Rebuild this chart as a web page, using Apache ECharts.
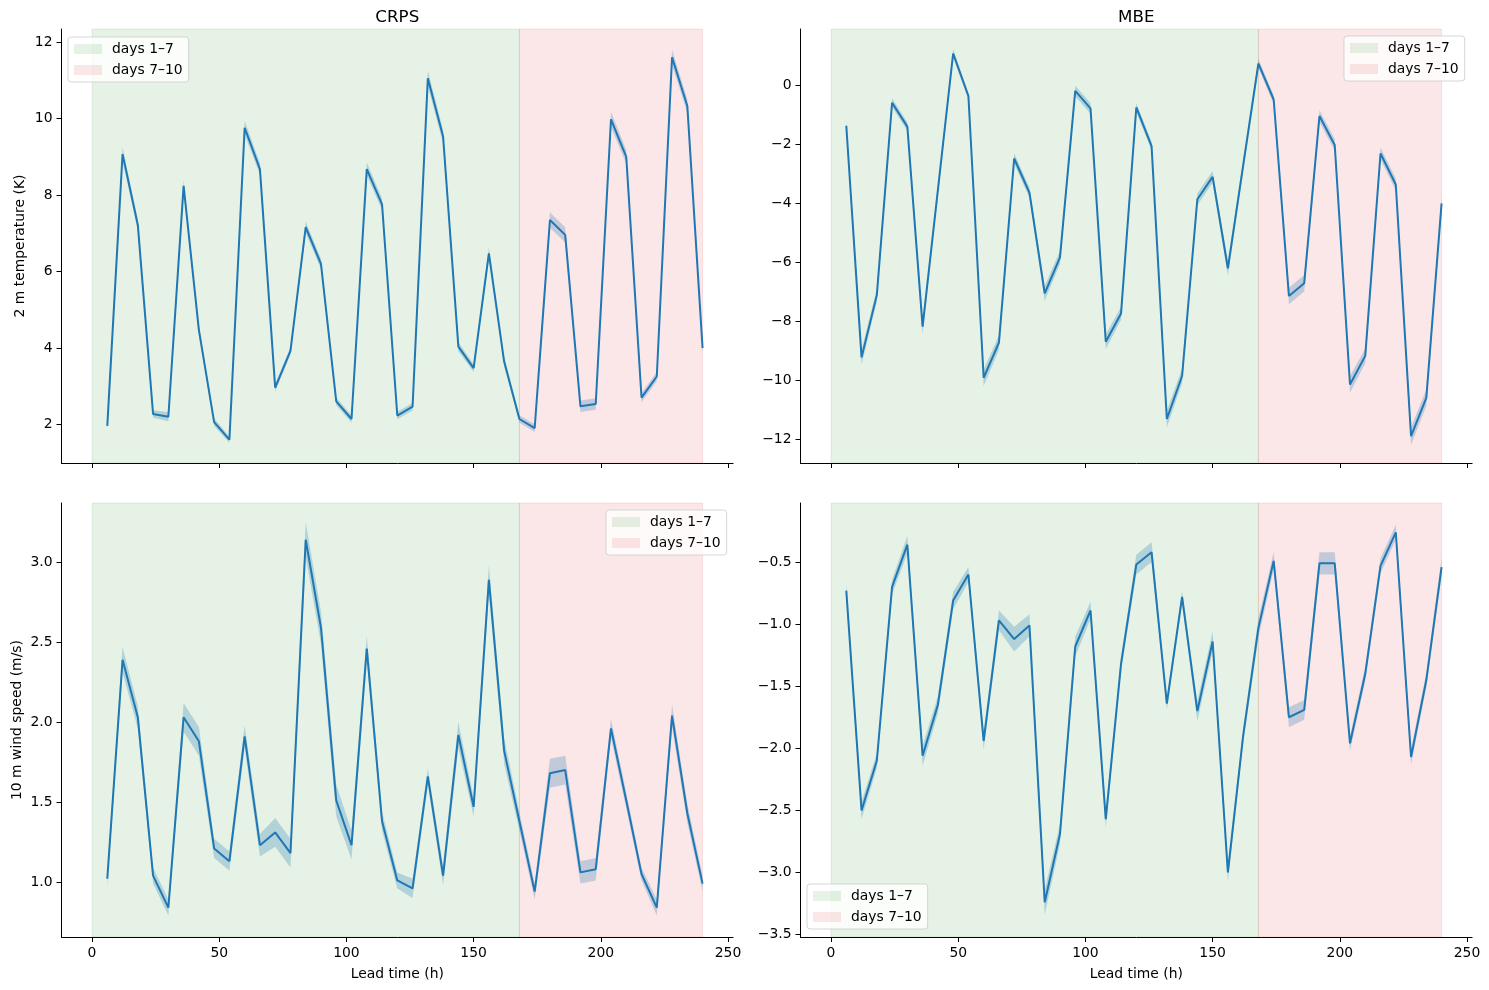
<!DOCTYPE html>
<html>
<head>
<meta charset="utf-8">
<title>CRPS / MBE by lead time</title>
<script src="https://cdn.jsdelivr.net/npm/echarts@6/dist/echarts.min.js"></script>
<style>
  html, body { margin: 0; padding: 0; background: #fff; }
  #main { width: 1489px; height: 990px; }
</style>
</head>
<body>
<div id="main"></div>
<script>
// lead times (h)
var leadTime = [6, 12, 18, 24, 30, 36, 42, 48, 54, 60, 66, 72, 78, 84, 90, 96, 102, 108, 114, 120,
  126, 132, 138, 144, 150, 156, 162, 168, 174, 180, 186, 192, 198, 204, 210, 216, 222, 228, 234, 240];
var xTicks = [0, 50, 100, 150, 200, 250];

// shaded forecast windows
var spanNames = ['days 1–7', 'days 7–10'];
var spanEdges = [0, 168, 240];

// 2 m temperature (K)
var tempCrps = [1.97, 9.07, 7.22, 2.28, 2.21, 8.24, 4.48, 2.07, 1.61, 9.76, 8.68, 2.97, 3.93, 7.16, 6.2, 2.61, 2.15, 8.68, 7.76, 2.24,
  2.47, 11.05, 9.53, 4.04, 3.48, 6.48, 3.65, 2.15, 1.91, 7.35, 6.96, 2.48, 2.54, 9.98, 9.0, 2.71, 3.26, 11.6, 10.33, 4.0];
var tempCrpsSpread = [0.1, 0.18, 0.15, 0.1, 0.12, 0.15, 0.12, 0.1, 0.08, 0.18, 0.15, 0.1, 0.1, 0.15, 0.14, 0.1, 0.1, 0.17, 0.15, 0.1,
  0.1, 0.2, 0.18, 0.12, 0.1, 0.15, 0.12, 0.1, 0.1, 0.2, 0.2, 0.15, 0.15, 0.2, 0.18, 0.12, 0.12, 0.2, 0.18, 0.12];
var tempMbe = [-1.38, -9.23, -7.12, -0.6, -1.41, -8.19, -3.56, 1.07, -0.37, -9.92, -8.73, -2.49, -3.65, -7.06, -5.84, -0.2, -0.79, -8.7, -7.74, -0.76,
  -2.07, -11.32, -9.86, -3.87, -3.11, -6.21, -2.73, 0.73, -0.49, -7.15, -6.72, -1.05, -2.03, -10.15, -9.18, -2.32, -3.37, -11.9, -10.6, -4.01];
var tempMbeSpread = [0.15, 0.25, 0.22, 0.15, 0.15, 0.25, 0.2, 0.15, 0.12, 0.28, 0.25, 0.18, 0.18, 0.25, 0.22, 0.18, 0.18, 0.25, 0.22, 0.15,
  0.15, 0.28, 0.25, 0.2, 0.2, 0.25, 0.2, 0.15, 0.15, 0.28, 0.28, 0.2, 0.2, 0.28, 0.25, 0.2, 0.2, 0.3, 0.28, 0.22];

// 10 m wind speed (m/s)
var windCrps = [1.02, 2.39, 2.03, 1.04, 0.84, 2.03, 1.88, 1.21, 1.13, 1.91, 1.23, 1.31, 1.18, 3.14, 2.59, 1.51, 1.23, 2.46, 1.38, 1.01,
  0.96, 1.66, 1.04, 1.92, 1.47, 2.89, 1.82, 1.38, 0.94, 1.68, 1.70, 1.06, 1.08, 1.96, 1.51, 1.05, 0.84, 2.04, 1.43, 0.99];
var windCrpsSpread = [0.05, 0.08, 0.07, 0.05, 0.05, 0.09, 0.09, 0.06, 0.06, 0.07, 0.07, 0.09, 0.09, 0.11, 0.1, 0.1, 0.09, 0.08, 0.06, 0.05,
  0.06, 0.05, 0.06, 0.08, 0.06, 0.09, 0.08, 0.06, 0.05, 0.09, 0.09, 0.07, 0.07, 0.06, 0.05, 0.04, 0.05, 0.07, 0.06, 0.05];
var windMbe = [-0.73, -2.5, -2.1, -0.7, -0.36, -2.06, -1.65, -0.81, -0.6, -1.94, -0.97, -1.12, -1.01, -3.24, -2.69, -1.18, -0.89, -2.57, -1.32, -0.52,
  -0.42, -1.64, -0.78, -1.70, -1.14, -3.0, -1.9, -1.03, -0.49, -1.75, -1.69, -0.51, -0.51, -1.96, -1.4, -0.53, -0.26, -2.07, -1.45, -0.54];
var windMbeSpread = [0.06, 0.07, 0.06, 0.06, 0.07, 0.08, 0.07, 0.07, 0.06, 0.07, 0.08, 0.1, 0.09, 0.1, 0.08, 0.08, 0.07, 0.07, 0.06, 0.08,
  0.08, 0.05, 0.05, 0.08, 0.08, 0.07, 0.06, 0.08, 0.07, 0.08, 0.08, 0.09, 0.09, 0.06, 0.06, 0.06, 0.06, 0.06, 0.06, 0.07];

// y tick labels
var tempCrpsTicks = [2, 4, 6, 8, 10, 12];
var tempMbeTicks = [-12, -10, -8, -6, -4, -2, 0];
var windCrpsTicks = [1.0, 1.5, 2.0, 2.5, 3.0];
var windMbeTicks = [-3.5, -3.0, -2.5, -2.0, -1.5, -1.0, -0.5];

var C0 = '#1f77b4';
var FONT = 'DejaVu Sans';
var spanColors = ['rgba(0,128,0,0.1)', 'rgba(220,20,20,0.1)'];

function fmtInt(v) { return String(Math.round(v)).replace('-', '\u2212'); }
function fmtOne(v) { return v.toFixed(1).replace('-', '\u2212'); }

// one entry per subplot
var panels = [
  { values: tempCrps, spread: tempCrpsSpread, ticks: tempCrpsTicks, min: 1.0, max: 12.34, fmt: fmtInt,
    left: 61.5, top: 29, title: 'CRPS', ylabel: '2 m temperature (K)', nameGap: 34, legend: { left: 68, top: 37 } },
  { values: tempMbe, spread: tempMbeSpread, ticks: tempMbeTicks, min: -12.81, max: 1.9, fmt: fmtInt,
    left: 800.5, top: 29, title: 'MBE', legend: { left: 1344, top: 36 } },
  { values: windCrps, spread: windCrpsSpread, ticks: windCrpsTicks, min: 0.656, max: 3.37, fmt: fmtOne,
    left: 61.5, top: 503, ylabel: '10 m wind speed (m/s)', nameGap: 37, bottom: true, legend: { left: 606, top: 510 } },
  { values: windMbe, spread: windMbeSpread, ticks: windMbeTicks, min: -3.52, max: -0.024, fmt: fmtOne,
    left: 800.5, top: 503, bottom: true, legend: { left: 807, top: 884 } }
];

var axisBase = {
  axisLine: { show: true, onZero: false, lineStyle: { color: '#000', width: 1 } },
  axisTick: { show: true, inside: false, length: 5, lineStyle: { color: '#000', width: 1 } },
  splitLine: { show: false }
};

// band polygon: upper edge left->right, then lower edge right->left
function bandRenderer(rows) {
  return function (params, api) {
    if (params.dataIndex !== 0) return;
    var pts = [];
    rows.forEach(function (r) { pts.push(api.coord([r[0], r[2]])); });
    for (var j = rows.length - 1; j >= 0; j--) pts.push(api.coord([rows[j][0], rows[j][1]]));
    return {
      type: 'polygon',
      shape: { points: pts },
      style: { fill: 'rgba(31,119,180,0.26)', stroke: 'none' }
    };
  };
}

var option = {
  animation: false,
  backgroundColor: '#fff',
  textStyle: { fontFamily: FONT },
  title: [],
  grid: [],
  xAxis: [],
  yAxis: [],
  legend: [],
  series: []
};

panels.forEach(function (p, i) {
  option.grid.push({ left: p.left, top: p.top, width: 671.6, height: 434 });

  if (p.title) {
    option.title.push({
      text: p.title, left: p.left + 335.8, top: 9, textAlign: 'center', padding: 0,
      textStyle: { fontFamily: FONT, fontSize: 16.7, fontWeight: 'normal', color: '#000' }
    });
  }

  option.xAxis.push(Object.assign({}, axisBase, {
    type: 'value', gridIndex: i, min: -12, max: 252, position: 'bottom',
    axisTick: Object.assign({}, axisBase.axisTick, { customValues: xTicks }),
    axisLabel: { show: !!p.bottom, customValues: xTicks, margin: 9, color: '#000', fontFamily: FONT, fontSize: 13.9 },
    name: p.bottom ? 'Lead time (h)' : '', nameLocation: 'middle', nameGap: 30,
    nameTextStyle: { color: '#000', fontFamily: FONT, fontSize: 13.9, verticalAlign: 'top' }
  }));

  option.yAxis.push(Object.assign({}, axisBase, {
    type: 'value', gridIndex: i, min: p.min, max: p.max, position: 'left',
    axisTick: Object.assign({}, axisBase.axisTick, { customValues: p.ticks }),
    axisLabel: { customValues: p.ticks, formatter: p.fmt, margin: 9, color: '#000', fontFamily: FONT, fontSize: 13.9 },
    name: p.ylabel || '', nameLocation: 'middle', nameGap: p.nameGap || 30, nameRotate: 90,
    nameTextStyle: { color: '#000', fontFamily: FONT, fontSize: 13.9 }
  }));

  option.legend.push({
    left: p.legend.left, top: p.legend.top, orient: 'vertical', selectedMode: false,
    icon: 'rect', itemWidth: 28, itemHeight: 10, itemGap: 7, padding: [5, 6, 5, 6],
    backgroundColor: 'rgba(255,255,255,0.8)', borderColor: 'rgba(204,204,204,0.8)', borderWidth: 1, borderRadius: 3,
    textStyle: { color: '#000', fontFamily: FONT, fontSize: 13.9, lineHeight: 14, padding: [0, 0, 0, 5] },
    data: spanNames.map(function (n, k) { return { name: n, itemStyle: { color: spanColors[k] } }; })
  });

  // shaded windows
  spanNames.forEach(function (n, k) {
    option.series.push({
      name: n, type: 'line', xAxisIndex: i, yAxisIndex: i, data: [], color: spanColors[k], silent: true,
      markArea: {
        silent: true,
        itemStyle: { color: spanColors[k], borderColor: spanColors[k], borderWidth: 1 },
        data: [[{ xAxis: spanEdges[k] }, { xAxis: spanEdges[k + 1] }]]
      }
    });
  });

  // uncertainty band (lower, upper)
  var rows = leadTime.map(function (t, j) { return [t, p.values[j] - p.spread[j], p.values[j] + p.spread[j]]; });
  option.series.push({
    type: 'custom', xAxisIndex: i, yAxisIndex: i, silent: true, z: 3,
    renderItem: bandRenderer(rows),
    encode: { x: 0, y: [1, 2] },
    data: rows
  });

  // mean line
  option.series.push({
    type: 'line', xAxisIndex: i, yAxisIndex: i, symbol: 'none', z: 4,
    lineStyle: { color: C0, width: 2 },
    data: leadTime.map(function (t, j) { return [t, p.values[j]]; })
  });
});

var myChart = echarts.init(document.getElementById('main'));
myChart.setOption(option);
</script>
</body>
</html>
